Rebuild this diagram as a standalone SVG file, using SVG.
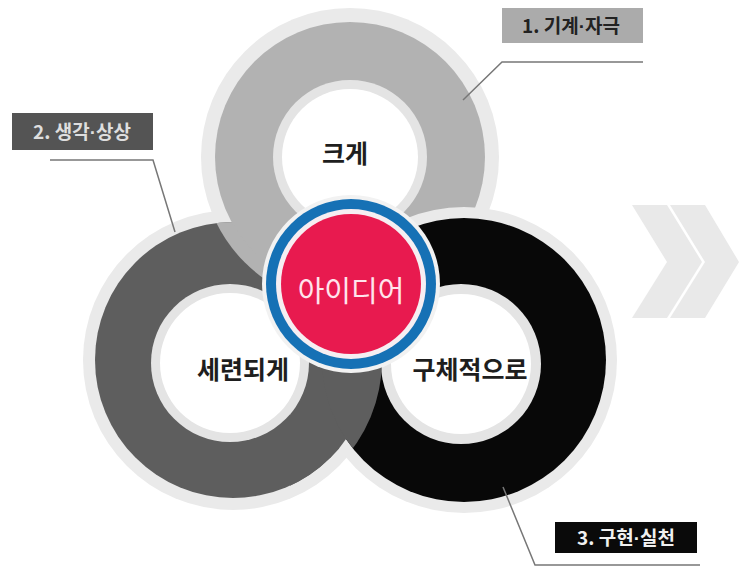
<svg xmlns="http://www.w3.org/2000/svg" width="740" height="568" viewBox="0 0 740 568">
<style>
.band{fill:#eaeaea}
.hb{fill:#e4e4e4}
.hole{fill:#ffffff}
.in{font-family:"Noto Sans CJK KR","Noto Sans",sans-serif;font-weight:700;font-size:25px;fill:#1e1e1e;text-anchor:middle}
.lab{font-family:"Noto Sans CJK KR","Noto Sans",sans-serif;font-weight:700;font-size:19px;text-anchor:middle}
.dot{font-family:"Liberation Sans",sans-serif}
.ln{fill:none;stroke:#777;stroke-width:1.5}
.chev{fill:#e9e9e9}
</style>
<defs>
<clipPath id="lens"><rect x="290" y="318" width="140" height="220"/></clipPath>
<clipPath id="grayCoreClip"><circle cx="233" cy="360" r="138"/></clipPath>
<clipPath id="blackCoreClip"><circle cx="464" cy="360" r="142"/></clipPath>
<g id="grayHole">
<circle cx="230" cy="363" r="79" class="hb"/>
<circle cx="230" cy="363" r="70" class="hole"/>
</g>
</defs>
<rect width="740" height="568" fill="#ffffff"/>
<g id="chevrons">
<polygon class="chev" points="632,205 667,205 702,262 667,318 632,318 667,262"/>
<polygon class="chev" points="670,205 705,205 739,262 705,318 670,318 705,262"/>
</g>
<g id="ring-bands">
<circle cx="233" cy="360" r="150" class="band"/>
<circle cx="350" cy="157" r="149" class="band"/>
</g>
<g id="ring-gray">
<circle cx="233" cy="360" r="138" fill="#5e5e5e"/>
<use href="#grayHole"/>
</g>
<g id="ring-top">
<circle cx="350" cy="157" r="149" fill="#b2b2b2" clip-path="url(#grayCoreClip)"/>
<circle cx="350" cy="157" r="135" fill="#b2b2b2"/>
<circle cx="350" cy="157" r="77" class="hb"/>
<circle cx="350" cy="157" r="68" class="hole"/>
</g>
<g id="ring-black">
<circle cx="464" cy="360" r="153" class="band"/>
<circle cx="464" cy="360" r="142" fill="#080808"/>
<circle cx="461" cy="364" r="80" class="hb"/>
<circle cx="461" cy="364" r="70" class="hole"/>
</g>
<g id="ring-gray-over" clip-path="url(#lens)">
<circle cx="233" cy="360" r="138" fill="#5e5e5e"/>
<circle cx="233" cy="360" r="149" fill="#5e5e5e" clip-path="url(#blackCoreClip)"/>
<use href="#grayHole"/>
</g>
<g id="texts-inner">
<text class="in" x="345" y="163">크게</text>
<text class="in" x="243" y="379">세련되게</text>
<text class="in" x="470" y="379">구체적으로</text>
</g>
<g id="idea">
<circle cx="351" cy="284" r="89" fill="#f2f2f2"/>
<circle cx="351" cy="284" r="85" fill="#1671b5"/>
<circle cx="351" cy="284" r="75" fill="#f6eef2"/>
<circle cx="351" cy="284" r="70" fill="#e81a4f"/>
<text x="351" y="302" font-family="'Noto Sans CJK KR','Noto Sans',sans-serif" font-size="29" fill="#ffe4ec" text-anchor="middle">아이디어</text>
</g>
<g id="connectors">
<polyline class="ln" points="643,62 502,62 463,100"/>
<polyline class="ln" points="50,160 153,160 175,232"/>
<polyline class="ln" stroke="#8a8a8a" points="503,487 535,565 700,565"/>
</g>
<g id="label-1">
<rect x="502" y="8" width="141" height="35" fill="#ababab"/>
<text class="lab" x="571" y="33" fill="#222">1. 기계<tspan class="dot">·</tspan>자극</text>
</g>
<g id="label-2">
<rect x="12" y="113" width="141" height="37" fill="#545454"/>
<text class="lab" x="82" y="139" fill="#dedede">2. 생각<tspan class="dot">·</tspan>상상</text>
</g>
<g id="label-3">
<rect x="555" y="522" width="142" height="31" fill="#0a0a0a"/>
<text class="lab" x="626" y="545" fill="#f0f0f0">3. 구현<tspan class="dot">·</tspan>실천</text>
</g>
</svg>
